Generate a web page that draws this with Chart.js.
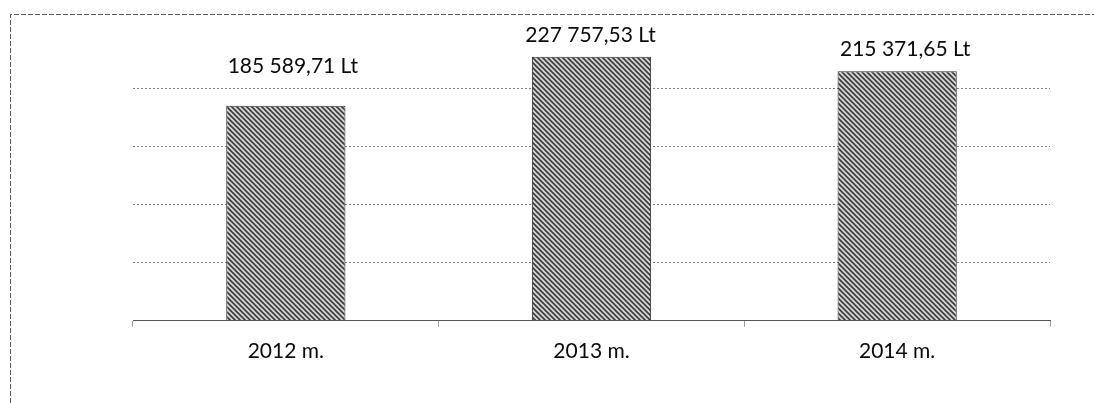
<!DOCTYPE html>
<html>
<head>
<meta charset="utf-8">
<script src="https://cdn.jsdelivr.net/npm/chart.js@4.4.0/dist/chart.umd.min.js"></script>
<style>
  html, body { margin: 0; padding: 0; background: #fff; }
  #wrap { width: 1094px; height: 403px; position: relative; }
</style>
</head>
<body>
<div id="wrap"><canvas id="c" width="1094" height="403"></canvas></div>
<script>
// Annual amounts (litas)
const years = ['2012 m.', '2013 m.', '2014 m.'];
const amounts = [185589.71, 227757.53, 215371.65];
const yTicks = [0, 50000, 100000, 150000, 200000, 250000];

// Value-label placement relative to each bar top (styling only)
const labelShift = [{ dx: 7, dy: 39 }, { dx: -1, dy: 22 }, { dx: 8, dy: 22 }];

const FONT = 'Lato, "Open Sans", sans-serif';

function formatLt(v) {
  const parts = v.toFixed(2).split('.');
  return parts[0].replace(/\B(?=(\d{3})+(?!\d))/g, ' ') + ',' + parts[1] + ' Lt';
}

// Diagonal hatch fill for the bars
function hatchPattern() {
  const s = 5;
  const t = document.createElement('canvas');
  t.width = s; t.height = s;
  const g = t.getContext('2d');
  g.fillStyle = '#d6d6d6';
  g.fillRect(0, 0, s, s);
  g.strokeStyle = '#3a3a3a';
  g.lineWidth = 1.6;
  g.beginPath();
  g.moveTo(-1, -1); g.lineTo(s + 1, s + 1);
  g.moveTo(-1, s - 1); g.lineTo(1, s + 1);
  g.moveTo(s - 1, -1); g.lineTo(s + 1, 1);
  g.stroke();
  return g.createPattern(t, 'repeat');
}

// Dashed frame along the top and left edges
const framePlugin = {
  id: 'frame',
  beforeDraw(chart) {
    const ctx = chart.ctx;
    ctx.save();
    ctx.strokeStyle = '#5a5a5a';
    ctx.lineWidth = 1;
    ctx.setLineDash([5, 2]);
    ctx.beginPath();
    ctx.moveTo(10.5, 403);
    ctx.lineTo(10.5, 14.5);
    ctx.lineTo(1094, 14.5);
    ctx.stroke();
    ctx.restore();
  }
};

// Value labels above the bars
const valueLabels = {
  id: 'valueLabels',
  afterDatasetsDraw(chart) {
    const ctx = chart.ctx;
    const meta = chart.getDatasetMeta(0);
    ctx.save();
    ctx.font = '21px ' + FONT;
    ctx.fillStyle = '#0a0a0a';
    ctx.textAlign = 'center';
    ctx.textBaseline = 'middle';
    meta.data.forEach((bar, i) => {
      const sh = labelShift[i];
      ctx.fillText(formatLt(amounts[i]), bar.x + sh.dx, bar.y - sh.dy);
    });
    ctx.restore();
  }
};

const ctx = document.getElementById('c').getContext('2d');
new Chart(ctx, {
  type: 'bar',
  data: {
    labels: years,
    datasets: [{
      data: amounts,
      backgroundColor: hatchPattern(),
      borderColor: '#2e2e2e',
      borderWidth: 1,
      categoryPercentage: 1,
      barPercentage: 0.39
    }]
  },
  options: {
    responsive: false,
    animation: false,
    devicePixelRatio: 1,
    layout: { padding: { left: 133, right: 44, top: 31, bottom: 27 } },
    plugins: { legend: { display: false }, tooltip: { enabled: false } },
    scales: {
      x: {
        grid: {
          display: true,
          offset: true,
          drawOnChartArea: false,
          drawTicks: true,
          tickLength: 6,
          color: '#a0a0a0'
        },
        border: { display: true, color: '#555', dash: [3, 2] },
        ticks: {
          padding: 12,
          color: '#0a0a0a',
          font: { family: FONT, size: 21 }
        }
      },
      y: {
        min: yTicks[0],
        max: yTicks[yTicks.length - 1],
        afterBuildTicks(axis) { axis.ticks = yTicks.map(v => ({ value: v })); },
        grid: {
          drawTicks: false,
          color: c => (c.tick && c.tick.value === yTicks[yTicks.length - 1]) ? 'rgba(0,0,0,0)' : '#7c7c7c',
          lineWidth: 1
        },
        border: { display: false, dash: [2, 2] },
        ticks: { display: false }
      }
    }
  },
  plugins: [framePlugin, valueLabels]
});
</script>
</body>
</html>
